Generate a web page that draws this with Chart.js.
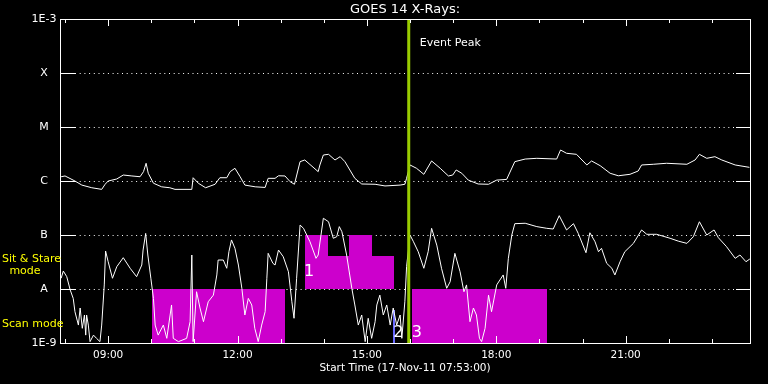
<!DOCTYPE html>
<html>
<head>
<meta charset="utf-8">
<script src="https://cdn.jsdelivr.net/npm/chart.js@4.4.1/dist/chart.umd.min.js"></script>
<style>
  html, body { margin: 0; padding: 0; background: #000; }
  #wrap { width: 768px; height: 384px; }
</style>
</head>
<body>
<div id="wrap"><canvas id="myChart" width="768" height="384"></canvas></div>
<script>
// time in decimal hours (UT), flux in W/m^2
var startHour = 7 + 53 / 60;
var endHour = startHour + 16;

var longTimes = [7.91, 8.00, 8.23, 8.39, 8.62, 8.85, 8.93, 9.00, 9.20, 9.35, 9.55, 9.74, 9.82, 9.88, 9.93,
  10.05, 10.24, 10.43, 10.55, 10.94, 10.97, 11.09, 11.26, 11.48, 11.59, 11.75, 11.83, 11.94, 12.06, 12.17,
  12.41, 12.64, 12.71, 12.87, 12.95, 13.10, 13.22, 13.32, 13.45, 13.56, 13.87, 13.91, 13.99, 14.11, 14.26,
  14.38, 14.49, 14.72, 14.88, 15.19, 15.42, 15.77, 15.88, 15.92, 16.00, 16.15, 16.32, 16.50, 16.70, 16.89,
  16.99, 17.07, 17.20, 17.35, 17.58, 17.82, 18.01, 18.24, 18.43, 18.67, 18.94, 19.40, 19.49, 19.63, 19.86,
  20.10, 20.21, 20.41, 20.64, 20.83, 21.10, 21.29, 21.37, 21.64, 21.95, 22.42, 22.61, 22.71, 22.88, 23.07,
  23.23, 23.54, 23.87];
var longFlux = [1.2e-6, 1.24e-6, 1.0e-6, 8.4e-7, 7.5e-7, 7.0e-7, 8.7e-7, 1.0e-6, 1.09e-6, 1.29e-6, 1.24e-6, 1.2e-6, 1.49e-6, 2.13e-6, 1.39e-6,
  9.1e-7, 7.8e-7, 7.5e-7, 7.0e-7, 7.0e-7, 1.15e-6, 9.1e-7, 7.5e-7, 8.7e-7, 1.15e-6, 1.15e-6, 1.49e-6, 1.72e-6, 1.2e-6, 8.4e-7,
  7.8e-7, 7.6e-7, 1.12e-6, 1.12e-6, 1.25e-6, 1.24e-6, 9.7e-7, 8.7e-7, 2.28e-6, 2.45e-6, 1.49e-6, 1.98e-6, 3.03e-6, 3.12e-6, 2.45e-6,
  2.82e-6, 2.28e-6, 1.12e-6, 8.8e-7, 8.7e-7, 8.1e-7, 8.4e-7, 8.7e-7, 1.12e-6, 1.98e-6, 1.72e-6, 1.33e-6, 2.35e-6, 1.72e-6, 1.24e-6,
  1.29e-6, 1.6e-6, 1.39e-6, 1.04e-6, 8.8e-7, 8.7e-7, 1.04e-6, 1.07e-6, 2.28e-6, 2.55e-6, 2.63e-6, 2.55e-6, 3.75e-6, 3.26e-6, 3.12e-6,
  1.98e-6, 2.35e-6, 1.92e-6, 1.39e-6, 1.25e-6, 1.33e-6, 1.53e-6, 1.98e-6, 2.04e-6, 2.13e-6, 2.04e-6, 2.45e-6, 3.12e-6, 2.63e-6, 2.82e-6,
  2.45e-6, 1.98e-6, 1.79e-6];

var shortTimes = [7.91, 7.96, 8.04, 8.12, 8.19, 8.23, 8.31, 8.35, 8.40, 8.45, 8.48, 8.50, 8.54, 8.58, 8.66,
  8.73, 8.81, 8.85, 8.91, 8.94, 9.00, 9.10, 9.20, 9.35, 9.51, 9.66, 9.78, 9.81, 9.87, 9.92,
  9.99, 10.05, 10.09, 10.16, 10.28, 10.36, 10.47, 10.51, 10.63, 10.82, 10.90, 10.94, 10.97, 11.05, 11.13,
  11.21, 11.32, 11.44, 11.52, 11.55, 11.67, 11.75, 11.80, 11.86, 11.94, 12.02, 12.10, 12.17, 12.25, 12.33,
  12.40, 12.48, 12.56, 12.64, 12.68, 12.71, 12.82, 12.87, 12.95, 13.06, 13.18, 13.26, 13.31, 13.37, 13.45,
  13.53, 13.68, 13.82, 13.87, 13.99, 14.11, 14.22, 14.30, 14.36, 14.42, 14.53, 14.65, 14.72, 14.80, 14.88,
  14.96, 15.03, 15.11, 15.19, 15.23, 15.30, 15.38, 15.46, 15.54, 15.61, 15.69, 15.77, 15.81, 15.88, 15.92,
  16.00, 16.08, 16.19, 16.32, 16.42, 16.50, 16.62, 16.73, 16.85, 16.93, 17.04, 17.16, 17.25, 17.31, 17.39,
  17.47, 17.54, 17.61, 17.66, 17.74, 17.82, 17.89, 18.01, 18.16, 18.22, 18.28, 18.36, 18.43, 18.67, 18.94,
  19.17, 19.32, 19.46, 19.63, 19.79, 19.90, 20.08, 20.17, 20.29, 20.37, 20.44, 20.56, 20.68, 20.75, 20.87,
  20.98, 21.18, 21.37, 21.49, 21.72, 22.03, 22.22, 22.42, 22.57, 22.71, 22.88, 23.05, 23.15, 23.34, 23.54,
  23.65, 23.79, 23.88];
var shortFlux = [1.58e-8, 2.15e-8, 1.69e-8, 9.6e-9, 6.7e-9, 3.8e-9, 2.15e-9, 4.45e-9, 1.87e-9, 3.3e-9, 1.4e-9, 3.3e-9, 2.15e-9, 1.06e-9, 1.4e-9,
  1.22e-9, 1.06e-9, 2.15e-9, 1.19e-8, 5.05e-8, 3.2e-8, 1.58e-8, 2.59e-8, 3.8e-8, 2.42e-8, 1.69e-8, 2.78e-8, 5.27e-8, 1.07e-7, 4.26e-8,
  1.58e-8, 6.7e-9, 2.15e-9, 1.4e-9, 2.15e-9, 1.22e-9, 5.06e-9, 1.22e-9, 1.06e-9, 1.22e-9, 2.48e-9, 4.26e-8, 1.06e-9, 8.9e-9, 4.45e-9,
  2.48e-9, 5.8e-9, 7.7e-9, 1.82e-8, 3.44e-8, 3.44e-8, 2.42e-8, 4.9e-8, 8.1e-8, 5.67e-8, 2.78e-8, 1.03e-8, 3.3e-9, 6.7e-9, 5.06e-9,
  1.87e-9, 1.06e-9, 2.15e-9, 3.8e-9, 1.58e-8, 4.58e-8, 2.99e-8, 2.78e-8, 5.27e-8, 3.96e-8, 2.09e-8, 5.8e-9, 2.87e-9, 1.58e-8, 1.53e-7,
  1.33e-7, 7.5e-8, 3.7e-8, 4.26e-8, 2.04e-7, 1.76e-7, 8.7e-8, 9.3e-8, 1.43e-7, 1.15e-7, 4.26e-8, 1.03e-8, 5.06e-9, 2.15e-9, 3.3e-9,
  1.06e-9, 2.87e-9, 1.22e-9, 2.48e-9, 5.06e-9, 7.7e-9, 3.3e-9, 5.06e-9, 2.15e-9, 4.45e-9, 2.15e-9, 3.3e-9, 1.22e-9, 5.8e-9, 2.59e-8,
  1.0e-7, 7.5e-8, 4.9e-8, 2.42e-8, 4.9e-8, 1.33e-7, 6.5e-8, 2.42e-8, 1.03e-8, 1.36e-8, 4.58e-8, 2.09e-8, 8.9e-9, 1.19e-8, 2.48e-9,
  4.45e-9, 3.3e-9, 1.22e-9, 1.06e-9, 1.87e-9, 7.7e-9, 3.8e-9, 1.19e-8, 1.82e-8, 1.03e-8, 3.7e-8, 1.0e-7, 1.62e-7, 1.65e-7, 1.43e-7,
  1.33e-7, 1.29e-7, 2.28e-7, 1.24e-7, 1.62e-7, 1.07e-7, 4.7e-8, 1.1e-7, 7.5e-8, 4.9e-8, 5.67e-8, 2.99e-8, 2.42e-8, 1.82e-8, 3.2e-8,
  4.9e-8, 7.0e-8, 1.24e-7, 1.03e-7, 1.03e-7, 8.7e-8, 7.7e-8, 7.0e-8, 9.3e-8, 1.76e-7, 1.0e-7, 1.24e-7, 8.9e-8, 6.07e-8, 3.7e-8,
  4.26e-8, 3.2e-8, 3.6e-8];

// axis
var levelValues = [1e-9, 1e-8, 1e-7, 1e-6, 1e-5, 1e-4, 1e-3];
var levelLabels = ['1E-9', 'A', 'B', 'C', 'M', 'X', '1E-3'];
var hourTicks = [8, 9, 10, 11, 12, 13, 14, 15, 16, 17, 18, 19, 20, 21, 22, 23];
var hourLabels = ['09:00', '12:00', '15:00', '18:00', '21:00'];

// observing modes
var scanStart = [10.02, 16.05];
var scanEnd = [13.10, 19.18];
var stareStart = [13.56, 14.09, 14.59, 15.11];
var stareEnd = [14.09, 14.59, 15.11, 15.63];
var stareTop = [1e-7, 4.1e-8, 1e-7, 4.1e-8];
var otherStart = [15.61];
var otherEnd = [15.66];
var otherTop = [4.1e-9];
var markerText = ['1', '2', '3'];
var markerTime = [13.66, 15.73, 16.16];
var markerFlux = [2.07e-8, 1.53e-9, 1.53e-9];
var eventPeak = 15.97;

function toPoints(xs, ys) {
  var out = [];
  for (var i = 0; i < xs.length; i++) out.push({ x: xs[i], y: ys[i] });
  return out;
}

function pad2(n) { return (n < 10 ? '0' : '') + n; }

// snap a box to whole pixels so neighbouring boxes don't leave seams
function box(ctx, x0, y0, x1, y1) {
  var l = Math.round(x0), r = Math.round(x1), t = Math.round(y0), b = Math.round(y1);
  ctx.fillRect(l, t, r - l, b - t);
}

var goesPlugin = {
  id: 'goes',
  beforeDatasetsDraw: function (chart) {
    var ctx = chart.ctx, xs = chart.scales.x, ys = chart.scales.y, a = chart.chartArea;
    ctx.save();
    // dotted level lines + solid end ticks
    ctx.strokeStyle = '#fff';
    ctx.lineWidth = 1;
    for (var i = 1; i < levelValues.length - 1; i++) {
      var y = Math.round(ys.getPixelForValue(levelValues[i])) + 0.5;
      ctx.setLineDash([1, 3.7]);
      ctx.beginPath(); ctx.moveTo(a.left + 15, y); ctx.lineTo(a.right - 14, y); ctx.stroke();
      ctx.setLineDash([]);
      ctx.beginPath(); ctx.moveTo(a.left, y); ctx.lineTo(a.left + 15, y);
      ctx.moveTo(a.right - 14, y); ctx.lineTo(a.right, y); ctx.stroke();
    }
    // mode boxes
    ctx.fillStyle = '#cc00cc';
    var bottomA = ys.getPixelForValue(1e-8);
    var floor = ys.getPixelForValue(1e-9);
    for (var s = 0; s < scanStart.length; s++) {
      box(ctx, xs.getPixelForValue(scanStart[s]), bottomA, xs.getPixelForValue(scanEnd[s]), floor);
    }
    for (var k = 0; k < stareStart.length; k++) {
      box(ctx, xs.getPixelForValue(stareStart[k]), ys.getPixelForValue(stareTop[k]),
        xs.getPixelForValue(stareEnd[k]), bottomA);
    }
    ctx.fillStyle = '#6a6aff';
    for (var o = 0; o < otherStart.length; o++) {
      box(ctx, xs.getPixelForValue(otherStart[o]), ys.getPixelForValue(otherTop[o]),
        xs.getPixelForValue(otherEnd[o]), floor);
    }
    ctx.fillStyle = '#fff';
    ctx.font = '16px "DejaVu Sans"';
    ctx.textAlign = 'center';
    ctx.textBaseline = 'middle';
    for (var m = 0; m < markerText.length; m++) {
      ctx.fillText(markerText[m], xs.getPixelForValue(markerTime[m]), ys.getPixelForValue(markerFlux[m]));
    }
    ctx.restore();
  },
  afterDatasetsDraw: function (chart) {
    var ctx = chart.ctx, xs = chart.scales.x, ys = chart.scales.y, a = chart.chartArea;
    ctx.save();
    // event peak
    var ex = xs.getPixelForValue(eventPeak);
    ctx.strokeStyle = '#99cc00';
    ctx.lineWidth = 3;
    ctx.beginPath(); ctx.moveTo(ex, a.top); ctx.lineTo(ex, a.bottom); ctx.stroke();
    ctx.fillStyle = '#fff';
    ctx.font = '11px "DejaVu Sans"';
    ctx.textAlign = 'left';
    ctx.textBaseline = 'middle';
    ctx.fillText('Event Peak', ex + 11, 43);

    // frame
    ctx.strokeStyle = '#fff';
    ctx.lineWidth = 1;
    ctx.strokeRect(a.left + 0.5, a.top + 0.5, a.right - a.left, a.bottom - a.top);

    // hour ticks top and bottom
    ctx.beginPath();
    hourTicks.forEach(function (h) {
      var x = Math.round(xs.getPixelForValue(h)) + 0.5;
      var len = (h % 3 === 0) ? 7 : 4;
      ctx.moveTo(x, a.bottom); ctx.lineTo(x, a.bottom - len);
      ctx.moveTo(x, a.top); ctx.lineTo(x, a.top + len);
    });
    ctx.stroke();

    // hour labels
    ctx.font = '10.5px "DejaVu Sans"';
    ctx.textAlign = 'center';
    hourTicks.forEach(function (h) {
      var lbl = pad2(h) + ':00';
      if (hourLabels.indexOf(lbl) >= 0) ctx.fillText(lbl, xs.getPixelForValue(h), a.bottom + 12);
    });
    ctx.fillText('Start Time (17-Nov-11 07:53:00)', (a.left + a.right) / 2, 368);

    // level labels
    ctx.font = '11px "DejaVu Sans"';
    for (var i = 0; i < levelValues.length; i++) {
      ctx.fillText(levelLabels[i], 44, ys.getPixelForValue(levelValues[i]));
    }

    // title
    ctx.font = '13px "DejaVu Sans"';
    ctx.fillText('GOES 14 X-Rays:', (a.left + a.right) / 2, 10);

    // mode legend
    ctx.fillStyle = '#ffff00';
    ctx.font = '11px "DejaVu Sans"';
    ctx.textAlign = 'left';
    ctx.fillText('Sit & Stare', 2, 259);
    ctx.textAlign = 'center';
    ctx.fillText('mode', 25, 271);
    ctx.textAlign = 'left';
    ctx.fillText('Scan mode', 2, 324);
    ctx.restore();
  }
};

var ctx = document.getElementById('myChart').getContext('2d');
var myChart = new Chart(ctx, {
  type: 'line',
  data: {
    datasets: [
      { label: 'long', data: toPoints(longTimes, longFlux), borderColor: '#fff', borderWidth: 1, pointRadius: 0, tension: 0 },
      { label: 'short', data: toPoints(shortTimes, shortFlux), borderColor: '#fff', borderWidth: 1, pointRadius: 0, tension: 0 }
    ]
  },
  options: {
    responsive: false,
    animation: false,
    devicePixelRatio: 1,
    layout: { padding: { left: 60, right: 18, top: 19, bottom: 41 } },
    plugins: { legend: { display: false }, tooltip: { enabled: false }, title: { display: false } },
    scales: {
      x: { type: 'linear', min: startHour, max: endHour, display: false },
      y: { type: 'logarithmic', min: 1e-9, max: 1e-3, display: false }
    }
  },
  plugins: [goesPlugin]
});
</script>
</body>
</html>
